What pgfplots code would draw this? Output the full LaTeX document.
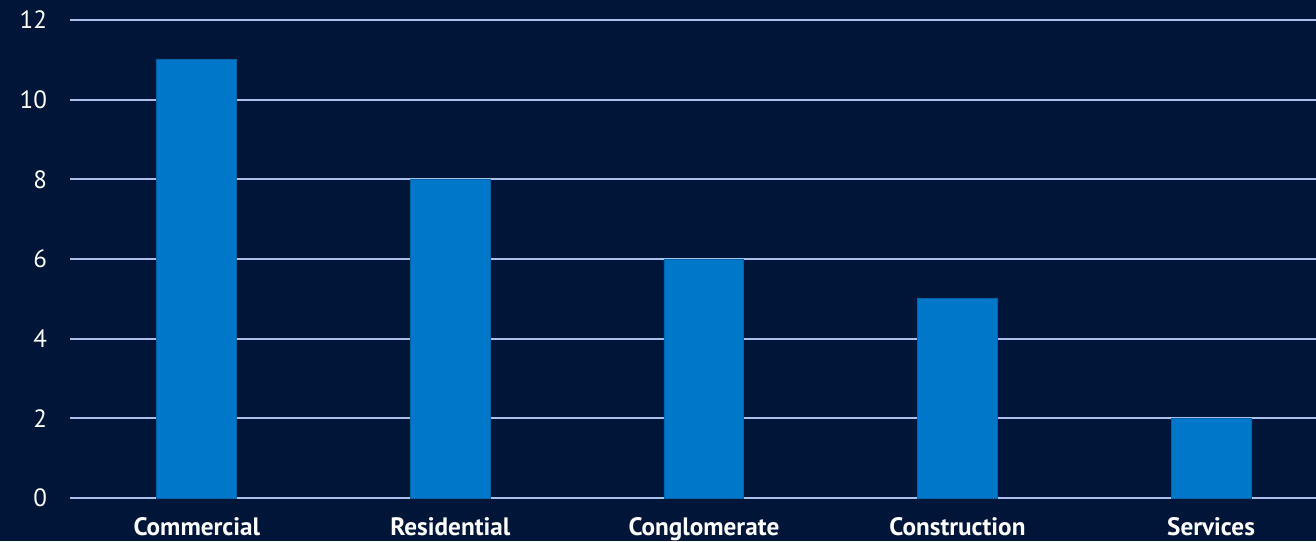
\documentclass[border=0pt]{standalone}
\usepackage{pgfplots}
\pgfplotsset{compat=1.18}
\usepackage{fontspec}
\setmainfont{PT Sans}
\definecolor{bg}{RGB}{0,22,56}
\definecolor{barc}{RGB}{0,119,200}
\definecolor{baredge}{RGB}{0,100,170}
\definecolor{gridc}{RGB}{170,192,235}
\begin{document}
\begin{tikzpicture}
\fill[bg] (0,0) rectangle (658pt,270.5pt);
\useasboundingbox (0,0) rectangle (658pt,270.5pt);
\begin{axis}[
  at={(35pt,21.5pt)}, anchor=south west,
  scale only axis, width=623pt, height=239pt,
  xmin=-0.5, xmax=4.414, ymin=0, ymax=12,
  ytick={0,2,...,12},
  xtick={0,1,2,3,4},
  xticklabels={Commercial,Residential,Conglomerate,Construction,Services},
  axis line style={draw=none},
  major tick length=0pt,
  ymajorgrids, grid style={gridc, line width=1pt},
  tick label style={text=white, font=\fontsize{12.5}{14}\selectfont},
  xticklabel style={font=\fontsize{12.6}{14}\selectfont\bfseries, yshift=-6.3pt},
  yticklabel style={xshift=-8pt},
  /pgf/number format/assume math mode=true,
  clip=false,
]
\addplot[ybar, bar width=0.315, fill=barc, draw=baredge, line width=0.4pt] coordinates {(0,11) (1,8) (2,6) (3,5) (4,2)};
\end{axis}
\end{tikzpicture}
\end{document}
